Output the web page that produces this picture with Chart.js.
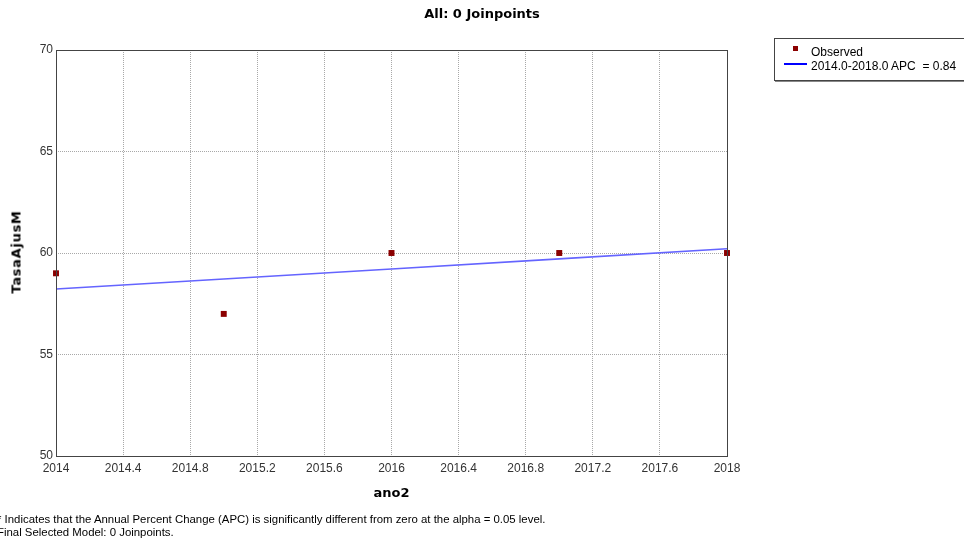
<!DOCTYPE html>
<html>
<head>
<meta charset="utf-8">
<script src="https://cdn.jsdelivr.net/npm/chart.js@4"></script>
<style>
    body { margin: 0; background: #fff; overflow: hidden; }
    #wrap { position: relative; width: 964px; height: 546px; font-family: "Liberation Sans", Arial, sans-serif; }
    #chart { position: absolute; left: 0; top: 0; }
    .title { position: absolute; top: 6px; left: 0; width: 964px; text-align: center; font: bold 13px "DejaVu Sans", Verdana, sans-serif; color: #000; }
    .ytitle { position: absolute; left: 16px; top: 252px; transform: translate(-50%, -50%) rotate(-90deg); font: bold 13px "DejaVu Sans", Verdana, sans-serif; letter-spacing: 0.7px; white-space: nowrap; }
    .xtitle { position: absolute; top: 485px; left: 56px; width: 671px; text-align: center; font: bold 13px "DejaVu Sans", Verdana, sans-serif; }
    .note { position: absolute; left: -3px; top: 513px; font-size: 11.4px; line-height: 13px; color: #000; }
    .legend { position: absolute; left: 774px; top: 38px; width: 200px; height: 41px; border: 1px solid #444; box-shadow: 1px 1px 0 #888; font-size: 12px; }
    .legend .sq { position: absolute; left: 18px; top: 7px; width: 5px; height: 5px; background: #8b0000; }
    .legend .ln { position: absolute; left: 9px; top: 24px; width: 23px; height: 2px; background: #0000ff; }
    .legend .t1 { position: absolute; left: 36px; top: 6px; }
    .legend .t2 { position: absolute; left: 36px; top: 20px; }
</style>
</head>
<body>
<div id="wrap">
    <canvas id="chart" width="964" height="546"></canvas>
    <div class="title">All: 0 Joinpoints</div>
    <div class="ytitle">TasaAjusM</div>
    <div class="xtitle">ano2</div>
    <div class="legend">
        <div class="sq"></div><div class="t1">Observed</div>
        <div class="ln"></div><div class="t2">2014.0-2018.0 APC&nbsp; = 0.84</div>
    </div>
    <div class="note">* Indicates that the Annual Percent Change (APC) is significantly different from zero at the alpha = 0.05 level.<br>Final Selected Model: 0 Joinpoints.</div>
</div>
<script>
const years = [2014, 2015, 2016, 2017, 2018];
const observed = [59, 57, 60, 60, 60];
const modeled = [58.23, 58.72, 59.21, 59.71, 60.21];
const xTicks = [2014, 2014.4, 2014.8, 2015.2, 2015.6, 2016, 2016.4, 2016.8, 2017.2, 2017.6, 2018];
const yTicks = [50, 55, 60, 65, 70];

const toPts = (xs, ys) => xs.map((x, i) => ({ x: x, y: ys[i] }));

const plotBox = {
    id: 'plotBox',
    afterDatasetsDraw(chart) {
        const a = chart.chartArea;
        const c = chart.ctx;
        c.save();
        c.strokeStyle = '#444';
        c.lineWidth = 1;
        c.strokeRect(a.left + 0.5, a.top + 0.5, a.right - a.left, a.bottom - a.top);
        c.restore();
    }
};

const gridStyle = { color: '#a8a8a8', lineWidth: 1, drawTicks: false };

new Chart(document.getElementById('chart'), {
    type: 'scatter',
    data: {
        datasets: [
            {
                label: 'Modeled',
                type: 'line',
                data: toPts(years, modeled),
                borderColor: '#6464ff',
                borderWidth: 1.6,
                pointRadius: 0,
                fill: false,
                order: 2
            },
            {
                label: 'Observed',
                data: toPts(years, observed),
                pointStyle: 'rect',
                pointRadius: 4.2,
                backgroundColor: '#8b0000',
                borderColor: '#8b0000',
                borderWidth: 0,
                clip: false,
                order: 1
            }
        ]
    },
    options: {
        responsive: false,
        animation: false,
        layout: { padding: { left: 0, top: 50, right: 237, bottom: 0 } },
        plugins: { legend: { display: false }, tooltip: { enabled: false } },
        scales: {
            x: {
                type: 'linear',
                min: 2014,
                max: 2018,
                afterFit: s => { s.height = 90; },
                afterBuildTicks: s => { s.ticks = xTicks.map(v => ({ value: v })); },
                ticks: {
                    padding: 5,
                    color: '#333',
                    font: { family: 'Liberation Sans', size: 12 },
                    maxRotation: 0,
                    autoSkip: false,
                    callback: v => String(Math.round(v * 10) / 10)
                },
                grid: gridStyle,
                border: { display: false, dash: [1, 1] }
            },
            y: {
                min: 50,
                max: 70,
                afterFit: s => { s.width = 56; },
                afterBuildTicks: s => { s.ticks = yTicks.map(v => ({ value: v })); },
                ticks: {
                    padding: 3,
                    color: '#333',
                    font: { family: 'Liberation Sans', size: 12 }
                },
                grid: gridStyle,
                border: { display: false, dash: [1, 1] }
            }
        }
    },
    plugins: [plotBox]
});
</script>
</body>
</html>
